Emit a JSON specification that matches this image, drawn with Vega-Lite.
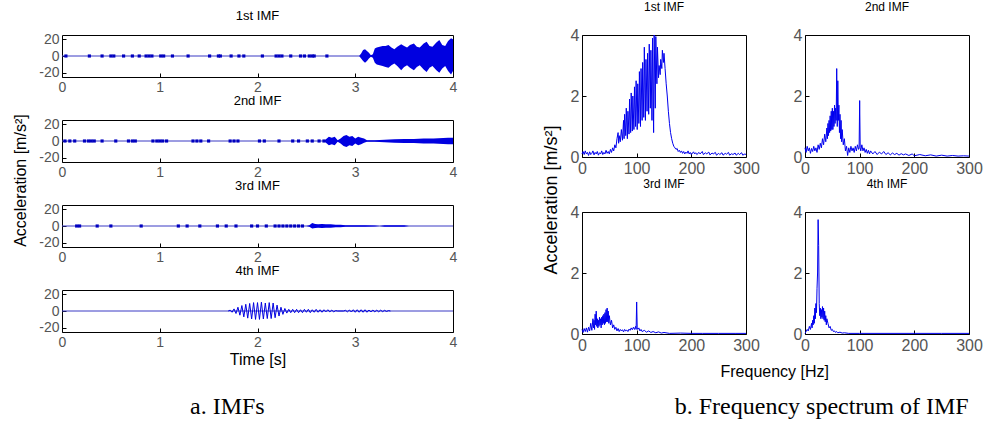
{
"$schema": "https://vega.github.io/schema/vega-lite/v6.json",
"background": "white",
"padding": {"left": 13, "top": 0, "right": 0, "bottom": 0},
"datasets": {
"ts": [
{"imf":1,"t":3.04,"lo":0,"hi":0},{"imf":1,"t":3.06,"lo":-3,"hi":3},{"imf":1,"t":3.08,"lo":-6,"hi":7},{"imf":1,"t":3.1,"lo":-8,"hi":8},{"imf":1,"t":3.12,"lo":-6,"hi":6},{"imf":1,"t":3.14,"lo":-3,"hi":4},{"imf":1,"t":3.16,"lo":-1,"hi":1},{"imf":1,"t":3.18,"lo":-2,"hi":2},{"imf":1,"t":3.2,"lo":-8,"hi":9},{"imf":1,"t":3.22,"lo":-10,"hi":10},{"imf":1,"t":3.25,"lo":-11,"hi":11},{"imf":1,"t":3.28,"lo":-12,"hi":12},{"imf":1,"t":3.31,"lo":-13,"hi":12},{"imf":1,"t":3.34,"lo":-14,"hi":13},{"imf":1,"t":3.37,"lo":-11,"hi":10},{"imf":1,"t":3.4,"lo":-9,"hi":8},{"imf":1,"t":3.43,"lo":-12,"hi":11},{"imf":1,"t":3.47,"lo":-17,"hi":14},{"imf":1,"t":3.5,"lo":-13,"hi":12},{"imf":1,"t":3.53,"lo":-11,"hi":10},{"imf":1,"t":3.56,"lo":-14,"hi":13},{"imf":1,"t":3.6,"lo":-17,"hi":15},{"imf":1,"t":3.63,"lo":-13,"hi":11},{"imf":1,"t":3.66,"lo":-11,"hi":10},{"imf":1,"t":3.7,"lo":-16,"hi":15},{"imf":1,"t":3.73,"lo":-19,"hi":17},{"imf":1,"t":3.76,"lo":-14,"hi":12},{"imf":1,"t":3.79,"lo":-12,"hi":11},{"imf":1,"t":3.83,"lo":-17,"hi":16},{"imf":1,"t":3.86,"lo":-20,"hi":19},{"imf":1,"t":3.89,"lo":-15,"hi":13},{"imf":1,"t":3.92,"lo":-12,"hi":12},{"imf":1,"t":3.95,"lo":-18,"hi":18},{"imf":1,"t":3.98,"lo":-22,"hi":21},{"imf":1,"t":4.0,"lo":-18,"hi":20},
{"imf":2,"t":2.68,"lo":0,"hi":0},{"imf":2,"t":2.7,"lo":-2,"hi":2},{"imf":2,"t":2.73,"lo":-5,"hi":5},{"imf":2,"t":2.76,"lo":-4,"hi":4},{"imf":2,"t":2.79,"lo":-5,"hi":5},{"imf":2,"t":2.82,"lo":-1,"hi":1},{"imf":2,"t":2.85,"lo":-3,"hi":3},{"imf":2,"t":2.88,"lo":-6,"hi":6},{"imf":2,"t":2.91,"lo":-7,"hi":7},{"imf":2,"t":2.94,"lo":-5,"hi":5},{"imf":2,"t":2.97,"lo":-6,"hi":6},{"imf":2,"t":3.0,"lo":-3,"hi":3},{"imf":2,"t":3.03,"lo":-5,"hi":5},{"imf":2,"t":3.06,"lo":-4,"hi":4},{"imf":2,"t":3.09,"lo":-2,"hi":3},{"imf":2,"t":3.12,"lo":-1,"hi":1},{"imf":2,"t":3.2,"lo":-1,"hi":1},{"imf":2,"t":3.3,"lo":-1.5,"hi":1.5},{"imf":2,"t":3.4,"lo":-2,"hi":2},{"imf":2,"t":3.5,"lo":-2.5,"hi":2.5},{"imf":2,"t":3.6,"lo":-2.5,"hi":2.5},{"imf":2,"t":3.7,"lo":-3,"hi":3},{"imf":2,"t":3.8,"lo":-3,"hi":3},{"imf":2,"t":3.9,"lo":-3.5,"hi":3.5},{"imf":2,"t":3.95,"lo":-4,"hi":4},{"imf":2,"t":4.0,"lo":-4,"hi":4},
{"imf":3,"t":2.5,"lo":0,"hi":0},{"imf":3,"t":2.53,"lo":-1,"hi":1},{"imf":3,"t":2.56,"lo":-3,"hi":3.5},{"imf":3,"t":2.59,"lo":-2.5,"hi":2.5},{"imf":3,"t":2.62,"lo":-2,"hi":2},{"imf":3,"t":2.66,"lo":-2.5,"hi":2.5},{"imf":3,"t":2.7,"lo":-2,"hi":2},{"imf":3,"t":2.75,"lo":-2,"hi":2},{"imf":3,"t":2.8,"lo":-1.5,"hi":1.5},{"imf":3,"t":2.85,"lo":-1.5,"hi":1.5},{"imf":3,"t":2.9,"lo":-0.8,"hi":0.8},{"imf":3,"t":3.0,"lo":-1,"hi":1},{"imf":3,"t":3.1,"lo":-0.8,"hi":0.8},{"imf":3,"t":3.2,"lo":-0.5,"hi":0.5},{"imf":3,"t":3.25,"lo":0,"hi":0},{"imf":3,"t":3.3,"lo":-0.8,"hi":0.8},{"imf":3,"t":3.4,"lo":-1,"hi":1},{"imf":3,"t":3.5,"lo":-0.8,"hi":0.8},{"imf":3,"t":3.55,"lo":0,"hi":0}
],
"blips": [
{"imf":1,"t":0.04},{"imf":1,"t":0.28},{"imf":1,"t":0.41},{"imf":1,"t":0.5},{"imf":1,"t":0.53},{"imf":1,"t":0.63},{"imf":1,"t":0.72},{"imf":1,"t":0.79},{"imf":1,"t":0.86},{"imf":1,"t":0.89},{"imf":1,"t":0.92},{"imf":1,"t":1.01},{"imf":1,"t":1.04},{"imf":1,"t":1.13},{"imf":1,"t":1.29},{"imf":1,"t":1.51},{"imf":1,"t":1.6},{"imf":1,"t":1.62},{"imf":1,"t":1.73},{"imf":1,"t":1.81},{"imf":1,"t":1.86},{"imf":1,"t":2.05},{"imf":1,"t":2.19},{"imf":1,"t":2.22},{"imf":1,"t":2.25},{"imf":1,"t":2.34},{"imf":1,"t":2.44},{"imf":1,"t":2.48},{"imf":1,"t":2.53},{"imf":1,"t":2.56},{"imf":1,"t":2.58},{"imf":1,"t":2.71},
{"imf":2,"t":0.03},{"imf":2,"t":0.08},{"imf":2,"t":0.13},{"imf":2,"t":0.23},{"imf":2,"t":0.27},{"imf":2,"t":0.3},{"imf":2,"t":0.33},{"imf":2,"t":0.41},{"imf":2,"t":0.55},{"imf":2,"t":0.68},{"imf":2,"t":0.72},{"imf":2,"t":0.75},{"imf":2,"t":0.93},{"imf":2,"t":0.97},{"imf":2,"t":1.0},{"imf":2,"t":1.03},{"imf":2,"t":1.07},{"imf":2,"t":1.34},{"imf":2,"t":1.38},{"imf":2,"t":1.42},{"imf":2,"t":1.5},{"imf":2,"t":1.72},{"imf":2,"t":1.76},{"imf":2,"t":1.8},{"imf":2,"t":2.02},{"imf":2,"t":2.07},{"imf":2,"t":2.22},{"imf":2,"t":2.36},{"imf":2,"t":2.42},{"imf":2,"t":2.51},{"imf":2,"t":2.56},{"imf":2,"t":2.63},{"imf":2,"t":2.68},
{"imf":3,"t":0.15},{"imf":3,"t":0.18},{"imf":3,"t":0.36},{"imf":3,"t":0.5},{"imf":3,"t":0.81},{"imf":3,"t":1.19},{"imf":3,"t":1.28},{"imf":3,"t":1.41},{"imf":3,"t":1.59},{"imf":3,"t":1.68},{"imf":3,"t":1.78},{"imf":3,"t":1.94},{"imf":3,"t":2.0},{"imf":3,"t":2.09},{"imf":3,"t":2.18},{"imf":3,"t":2.22},{"imf":3,"t":2.26},{"imf":3,"t":2.3},{"imf":3,"t":2.34},{"imf":3,"t":2.38},{"imf":3,"t":2.42},{"imf":3,"t":2.46}
],
"imf4": [
{"t":1.70,"v":0},{"t":1.72,"v":1},{"t":1.74,"v":-1.5},{"t":1.76,"v":2.5},{"t":1.78,"v":-3},{"t":1.80,"v":4.5},{"t":1.82,"v":-5},{"t":1.84,"v":6.5},{"t":1.86,"v":-7},{"t":1.88,"v":8},{"t":1.90,"v":-8.5},{"t":1.92,"v":9},{"t":1.94,"v":-9.5},{"t":1.96,"v":10},{"t":1.98,"v":-10},{"t":2.00,"v":10},{"t":2.02,"v":-10},{"t":2.04,"v":10.5},{"t":2.06,"v":-9.5},{"t":2.08,"v":9.5},{"t":2.10,"v":-9},{"t":2.12,"v":10},{"t":2.14,"v":-9},{"t":2.16,"v":9.5},{"t":2.18,"v":-8},{"t":2.20,"v":7},{"t":2.22,"v":-6},{"t":2.24,"v":4.5},{"t":2.26,"v":-4},{"t":2.28,"v":3},{"t":2.30,"v":-2.5},{"t":2.32,"v":2},{"t":2.34,"v":-2},{"t":2.36,"v":2},{"t":2.38,"v":-2},{"t":2.40,"v":2},{"t":2.42,"v":-2},{"t":2.44,"v":1.5},{"t":2.46,"v":-2},{"t":2.48,"v":2},{"t":2.50,"v":-1.5},{"t":2.52,"v":2},{"t":2.54,"v":-2},{"t":2.56,"v":1.5},{"t":2.58,"v":-1.5},{"t":2.60,"v":2},{"t":2.62,"v":-1.5},{"t":2.64,"v":1.5},{"t":2.66,"v":-1.5},{"t":2.68,"v":1.5},{"t":2.70,"v":-1},{"t":2.72,"v":1.5},{"t":2.74,"v":-1},{"t":2.76,"v":1},{"t":2.78,"v":-1},{"t":2.80,"v":0.5},{"t":2.82,"v":0},{"t":2.88,"v":0},{"t":2.90,"v":0.8},{"t":2.92,"v":-1},{"t":2.94,"v":1.2},{"t":2.96,"v":-1.2},{"t":2.98,"v":1.5},{"t":3.00,"v":-1.5},{"t":3.02,"v":1.5},{"t":3.04,"v":-1.5},{"t":3.06,"v":1.5},{"t":3.08,"v":-1.5},{"t":3.10,"v":1.5},{"t":3.12,"v":-1.5},{"t":3.14,"v":1.2},{"t":3.16,"v":-1.2},{"t":3.18,"v":1.2},{"t":3.20,"v":-1},{"t":3.22,"v":1},{"t":3.24,"v":-1},{"t":3.26,"v":1},{"t":3.28,"v":-0.8},{"t":3.30,"v":0.8},{"t":3.32,"v":-0.6},{"t":3.34,"v":0.5},{"t":3.36,"v":0}
],
"s1": [
{"f":0,"a":0.1},{"f":2,"a":0.18},{"f":4,"a":0.08},{"f":6,"a":0.2},{"f":8,"a":0.1},{"f":10,"a":0.15},{"f":12,"a":0.05},{"f":14,"a":0.17},{"f":16,"a":0.08},{"f":18,"a":0.12},{"f":20,"a":0.2},{"f":22,"a":0.07},{"f":24,"a":0.15},{"f":26,"a":0.1},{"f":28,"a":0.18},{"f":30,"a":0.06},{"f":32,"a":0.14},{"f":34,"a":0.1},{"f":36,"a":0.2},{"f":38,"a":0.08},{"f":40,"a":0.15},{"f":42,"a":0.1},{"f":44,"a":0.22},{"f":46,"a":0.12},{"f":48,"a":0.18},{"f":50,"a":0.1},{"f":52,"a":0.25},{"f":54,"a":0.15},{"f":56,"a":0.3},{"f":58,"a":0.2},{"f":60,"a":0.4},{"f":62,"a":0.3},{"f":64,"a":0.6},{"f":66,"a":0.8},{"f":67,"a":0.45},{"f":68,"a":0.7},{"f":70,"a":0.5},{"f":72,"a":0.9},{"f":74,"a":0.55},{"f":76,"a":1.2},{"f":77,"a":0.6},{"f":78,"a":1.4},{"f":80,"a":0.7},{"f":81,"a":1.6},{"f":83,"a":0.6},{"f":84,"a":1.5},{"f":86,"a":0.75},{"f":87,"a":1.9},{"f":89,"a":0.8},{"f":90,"a":2.1},{"f":92,"a":0.85},{"f":93,"a":2.0},{"f":95,"a":0.9},{"f":96,"a":2.3},{"f":98,"a":1.0},{"f":99,"a":2.5},{"f":101,"a":0.9},{"f":102,"a":2.4},{"f":104,"a":1.1},{"f":105,"a":2.8},{"f":107,"a":1.0},{"f":108,"a":2.9},{"f":110,"a":1.2},{"f":111,"a":3.1},{"f":113,"a":1.3},{"f":114,"a":3.6},{"f":116,"a":1.2},{"f":117,"a":3.2},{"f":119,"a":1.5},{"f":120,"a":3.4},{"f":122,"a":1.4},{"f":123,"a":3.7},{"f":125,"a":1.6},{"f":126,"a":3.5},{"f":128,"a":1.2},{"f":129,"a":3.9},{"f":131,"a":0.8},{"f":132,"a":4.0},{"f":134,"a":1.6},{"f":135,"a":3.95},{"f":137,"a":2.4},{"f":138,"a":3.6},{"f":140,"a":2.6},{"f":141,"a":3.0},{"f":143,"a":2.7},{"f":144,"a":3.2},{"f":146,"a":2.9},{"f":147,"a":3.5},{"f":149,"a":3.1},{"f":150,"a":3.4},{"f":152,"a":2.9},{"f":154,"a":2.4},{"f":156,"a":2.0},{"f":158,"a":1.5},{"f":160,"a":1.1},{"f":162,"a":0.8},{"f":164,"a":0.6},{"f":166,"a":0.45},{"f":168,"a":0.35},{"f":170,"a":0.3},{"f":172,"a":0.25},{"f":174,"a":0.28},{"f":176,"a":0.18},{"f":178,"a":0.22},{"f":180,"a":0.15},{"f":182,"a":0.2},{"f":184,"a":0.12},{"f":186,"a":0.18},{"f":188,"a":0.1},{"f":190,"a":0.16},{"f":192,"a":0.12},{"f":194,"a":0.2},{"f":196,"a":0.1},{"f":198,"a":0.15},{"f":200,"a":0.08},{"f":204,"a":0.17},{"f":206,"a":0.1},{"f":208,"a":0.14},{"f":210,"a":0.08},{"f":214,"a":0.15},{"f":216,"a":0.1},{"f":220,"a":0.18},{"f":222,"a":0.08},{"f":226,"a":0.14},{"f":228,"a":0.1},{"f":232,"a":0.16},{"f":234,"a":0.07},{"f":238,"a":0.13},{"f":240,"a":0.1},{"f":244,"a":0.15},{"f":246,"a":0.06},{"f":250,"a":0.12},{"f":252,"a":0.08},{"f":256,"a":0.14},{"f":258,"a":0.06},{"f":262,"a":0.12},{"f":264,"a":0.09},{"f":268,"a":0.15},{"f":270,"a":0.06},{"f":274,"a":0.11},{"f":276,"a":0.08},{"f":280,"a":0.13},{"f":282,"a":0.06},{"f":286,"a":0.12},{"f":288,"a":0.08},{"f":292,"a":0.14},{"f":294,"a":0.06},{"f":298,"a":0.1},{"f":300,"a":0.08}
],
"s2": [
{"f":0,"a":0.3},{"f":2,"a":0.15},{"f":4,"a":0.35},{"f":6,"a":0.2},{"f":8,"a":0.3},{"f":10,"a":0.12},{"f":12,"a":0.28},{"f":14,"a":0.18},{"f":16,"a":0.35},{"f":18,"a":0.2},{"f":20,"a":0.3},{"f":22,"a":0.15},{"f":24,"a":0.4},{"f":26,"a":0.25},{"f":28,"a":0.45},{"f":30,"a":0.3},{"f":32,"a":0.6},{"f":34,"a":0.4},{"f":36,"a":0.75},{"f":38,"a":0.5},{"f":40,"a":0.95},{"f":41,"a":0.6},{"f":42,"a":1.1},{"f":43,"a":0.7},{"f":44,"a":1.2},{"f":45,"a":0.8},{"f":46,"a":1.35},{"f":47,"a":0.85},{"f":48,"a":1.5},{"f":49,"a":0.9},{"f":50,"a":1.6},{"f":51,"a":0.9},{"f":52,"a":1.5},{"f":53,"a":1.0},{"f":54,"a":1.7},{"f":55,"a":1.1},{"f":56,"a":1.6},{"f":57,"a":1.2},{"f":58,"a":2.9},{"f":59,"a":1.0},{"f":60,"a":2.5},{"f":61,"a":1.2},{"f":62,"a":1.7},{"f":63,"a":0.8},{"f":64,"a":1.4},{"f":65,"a":0.6},{"f":66,"a":1.2},{"f":67,"a":0.5},{"f":68,"a":0.9},{"f":70,"a":0.4},{"f":72,"a":0.6},{"f":74,"a":0.2},{"f":76,"a":0.35},{"f":78,"a":0.05},{"f":80,"a":0.3},{"f":82,"a":0.15},{"f":84,"a":0.35},{"f":86,"a":0.2},{"f":88,"a":0.3},{"f":90,"a":0.15},{"f":92,"a":0.35},{"f":94,"a":0.2},{"f":96,"a":0.4},{"f":98,"a":0.25},{"f":99,"a":0.3},{"f":100,"a":1.85},{"f":101,"a":0.3},{"f":102,"a":0.2},{"f":104,"a":0.4},{"f":106,"a":0.2},{"f":108,"a":0.3},{"f":110,"a":0.15},{"f":112,"a":0.25},{"f":114,"a":0.12},{"f":116,"a":0.22},{"f":118,"a":0.1},{"f":120,"a":0.2},{"f":124,"a":0.1},{"f":128,"a":0.18},{"f":132,"a":0.08},{"f":136,"a":0.16},{"f":140,"a":0.1},{"f":144,"a":0.18},{"f":148,"a":0.08},{"f":152,"a":0.14},{"f":156,"a":0.07},{"f":160,"a":0.13},{"f":164,"a":0.08},{"f":168,"a":0.12},{"f":172,"a":0.06},{"f":176,"a":0.11},{"f":180,"a":0.07},{"f":184,"a":0.1},{"f":190,"a":0.05},{"f":196,"a":0.1},{"f":200,"a":0.04},{"f":210,"a":0.08},{"f":220,"a":0.04},{"f":230,"a":0.07},{"f":240,"a":0.03},{"f":250,"a":0.06},{"f":260,"a":0.03},{"f":270,"a":0.05},{"f":280,"a":0.03},{"f":290,"a":0.04},{"f":300,"a":0.03}
],
"s3": [
{"f":0,"a":0.15},{"f":2,"a":0.05},{"f":4,"a":0.18},{"f":6,"a":0.08},{"f":8,"a":0.2},{"f":10,"a":0.06},{"f":12,"a":0.22},{"f":14,"a":0.1},{"f":16,"a":0.35},{"f":18,"a":0.12},{"f":20,"a":0.5},{"f":21,"a":0.2},{"f":22,"a":0.45},{"f":23,"a":0.15},{"f":24,"a":0.65},{"f":25,"a":0.3},{"f":26,"a":0.75},{"f":27,"a":0.25},{"f":28,"a":0.5},{"f":29,"a":0.2},{"f":30,"a":0.45},{"f":31,"a":0.25},{"f":32,"a":0.55},{"f":33,"a":0.3},{"f":34,"a":0.5},{"f":35,"a":0.2},{"f":36,"a":0.55},{"f":37,"a":0.3},{"f":38,"a":0.6},{"f":39,"a":0.35},{"f":40,"a":0.65},{"f":41,"a":0.3},{"f":42,"a":0.7},{"f":43,"a":0.35},{"f":44,"a":0.8},{"f":45,"a":0.4},{"f":46,"a":0.85},{"f":47,"a":0.4},{"f":48,"a":0.75},{"f":49,"a":0.35},{"f":50,"a":0.6},{"f":52,"a":0.3},{"f":54,"a":0.45},{"f":56,"a":0.2},{"f":58,"a":0.3},{"f":60,"a":0.15},{"f":62,"a":0.22},{"f":64,"a":0.1},{"f":66,"a":0.18},{"f":68,"a":0.08},{"f":70,"a":0.15},{"f":72,"a":0.1},{"f":74,"a":0.14},{"f":76,"a":0.07},{"f":78,"a":0.15},{"f":80,"a":0.1},{"f":82,"a":0.13},{"f":84,"a":0.08},{"f":86,"a":0.16},{"f":88,"a":0.12},{"f":90,"a":0.2},{"f":92,"a":0.14},{"f":94,"a":0.22},{"f":96,"a":0.15},{"f":98,"a":0.25},{"f":99,"a":0.15},{"f":100,"a":1.05},{"f":101,"a":0.2},{"f":102,"a":0.15},{"f":104,"a":0.2},{"f":106,"a":0.1},{"f":108,"a":0.15},{"f":110,"a":0.08},{"f":114,"a":0.12},{"f":118,"a":0.06},{"f":122,"a":0.1},{"f":126,"a":0.05},{"f":130,"a":0.08},{"f":135,"a":0.04},{"f":140,"a":0.07},{"f":145,"a":0.03},{"f":150,"a":0.05},{"f":160,"a":0.02},{"f":180,"a":0.03},{"f":200,"a":0.02},{"f":220,"a":0.02},{"f":250,"a":0.02},{"f":280,"a":0.02},{"f":300,"a":0.02}
],
"s4": [
{"f":0,"a":0.02},{"f":2,"a":0.08},{"f":4,"a":0.15},{"f":6,"a":0.1},{"f":8,"a":0.25},{"f":10,"a":0.15},{"f":12,"a":0.35},{"f":13,"a":0.2},{"f":14,"a":0.45},{"f":15,"a":0.3},{"f":16,"a":0.6},{"f":17,"a":0.35},{"f":18,"a":0.85},{"f":19,"a":0.5},{"f":20,"a":1.0},{"f":21,"a":0.7},{"f":22,"a":1.5},{"f":23,"a":2.0},{"f":24,"a":3.75},{"f":25,"a":2.9},{"f":26,"a":1.0},{"f":27,"a":0.6},{"f":28,"a":0.85},{"f":29,"a":0.5},{"f":30,"a":0.8},{"f":31,"a":0.55},{"f":32,"a":0.9},{"f":33,"a":0.5},{"f":34,"a":0.85},{"f":35,"a":0.45},{"f":36,"a":0.75},{"f":37,"a":0.4},{"f":38,"a":0.6},{"f":39,"a":0.3},{"f":40,"a":0.5},{"f":42,"a":0.35},{"f":44,"a":0.2},{"f":46,"a":0.25},{"f":48,"a":0.12},{"f":50,"a":0.15},{"f":52,"a":0.08},{"f":54,"a":0.1},{"f":56,"a":0.05},{"f":58,"a":0.08},{"f":60,"a":0.04},{"f":64,"a":0.06},{"f":68,"a":0.03},{"f":72,"a":0.04},{"f":80,"a":0.02},{"f":100,"a":0.02},{"f":150,"a":0.02},{"f":200,"a":0.02},{"f":250,"a":0.02},{"f":300,"a":0.02}
]
},
"hconcat": [
{
"title": {"text": "a. IMFs", "orient": "bottom", "anchor": "middle", "font": "Liberation Serif", "fontSize": 24, "offset": 27, "frame": "bounds", "dx": -8},
"vconcat": [
{
"title": {"text": "Acceleration [m/s²]", "orient": "left", "anchor": "middle", "fontSize": 16, "offset": 9, "dx": 8},
"bounds": "flush",
"spacing": 43,
"vconcat": [
{"width": 391, "height": 42, "title": {"text": "1st IMF", "anchor": "middle", "offset": 9, "frame": "group"},
"layer": [
{"data": {"values": [{}]}, "mark": {"type": "rule", "color": "#3a3ac4", "strokeWidth": 1}, "encoding": {"y": {"datum": 0, "type": "quantitative", "scale": {"domain": [-25, 25], "nice": false, "zero": false}, "axis": {"title": null, "values": [-20, 0, 20], "labelExpr": "'' + datum.value", "labelFontSize": 14}}}},
{"data": {"name": "ts"}, "transform": [{"filter": "datum.imf == 1"}], "mark": {"type": "area", "color": "#0000e0", "opacity": 1}, "encoding": {"x": {"field": "t", "type": "quantitative", "scale": {"domain": [0, 4], "nice": false}, "axis": {"title": null, "values": [0, 1, 2, 3, 4], "format": "d", "labelFontSize": 14, "labelPadding": 7}}, "y": {"field": "lo", "type": "quantitative", "axis": {"title": null, "values": [-20, 0, 20], "labelExpr": "'' + datum.value", "labelFontSize": 14}}, "y2": {"field": "hi"}}},
{"data": {"name": "blips"}, "transform": [{"filter": "datum.imf == 1"}], "mark": {"type": "square", "size": 10, "color": "#0000c0", "opacity": 1}, "encoding": {"x": {"field": "t", "type": "quantitative", "axis": {"title": null, "values": [0, 1, 2, 3, 4], "format": "d", "labelFontSize": 14, "labelPadding": 7}}, "y": {"datum": 0, "type": "quantitative", "axis": {"title": null, "values": [-20, 0, 20], "labelExpr": "'' + datum.value", "labelFontSize": 14}}}}
]},
{"width": 391, "height": 42, "title": {"text": "2nd IMF", "anchor": "middle", "offset": 9, "frame": "group"},
"layer": [
{"data": {"values": [{}]}, "mark": {"type": "rule", "color": "#3a3ac4", "strokeWidth": 1}, "encoding": {"y": {"datum": 0, "type": "quantitative", "scale": {"domain": [-25, 25], "nice": false, "zero": false}, "axis": {"title": null, "values": [-20, 0, 20], "labelExpr": "'' + datum.value", "labelFontSize": 14}}}},
{"data": {"name": "ts"}, "transform": [{"filter": "datum.imf == 2"}], "mark": {"type": "area", "color": "#0000e0", "opacity": 1}, "encoding": {"x": {"field": "t", "type": "quantitative", "scale": {"domain": [0, 4], "nice": false}, "axis": {"title": null, "values": [0, 1, 2, 3, 4], "format": "d", "labelFontSize": 14, "labelPadding": 7}}, "y": {"field": "lo", "type": "quantitative", "axis": {"title": null, "values": [-20, 0, 20], "labelExpr": "'' + datum.value", "labelFontSize": 14}}, "y2": {"field": "hi"}}},
{"data": {"name": "blips"}, "transform": [{"filter": "datum.imf == 2"}], "mark": {"type": "square", "size": 10, "color": "#0000c0", "opacity": 1}, "encoding": {"x": {"field": "t", "type": "quantitative", "axis": {"title": null, "values": [0, 1, 2, 3, 4], "format": "d", "labelFontSize": 14, "labelPadding": 7}}, "y": {"datum": 0, "type": "quantitative", "axis": {"title": null, "values": [-20, 0, 20], "labelExpr": "'' + datum.value", "labelFontSize": 14}}}}
]},
{"width": 391, "height": 42, "title": {"text": "3rd IMF", "anchor": "middle", "offset": 9, "frame": "group"},
"layer": [
{"data": {"values": [{}]}, "mark": {"type": "rule", "color": "#3a3ac4", "strokeWidth": 1}, "encoding": {"y": {"datum": 0, "type": "quantitative", "scale": {"domain": [-25, 25], "nice": false, "zero": false}, "axis": {"title": null, "values": [-20, 0, 20], "labelExpr": "'' + datum.value", "labelFontSize": 14}}}},
{"data": {"name": "ts"}, "transform": [{"filter": "datum.imf == 3"}], "mark": {"type": "area", "color": "#0000e0", "opacity": 1}, "encoding": {"x": {"field": "t", "type": "quantitative", "scale": {"domain": [0, 4], "nice": false}, "axis": {"title": null, "values": [0, 1, 2, 3, 4], "format": "d", "labelFontSize": 14, "labelPadding": 7}}, "y": {"field": "lo", "type": "quantitative", "axis": {"title": null, "values": [-20, 0, 20], "labelExpr": "'' + datum.value", "labelFontSize": 14}}, "y2": {"field": "hi"}}},
{"data": {"name": "blips"}, "transform": [{"filter": "datum.imf == 3"}], "mark": {"type": "square", "size": 10, "color": "#0000c0", "opacity": 1}, "encoding": {"x": {"field": "t", "type": "quantitative", "axis": {"title": null, "values": [0, 1, 2, 3, 4], "format": "d", "labelFontSize": 14, "labelPadding": 7}}, "y": {"datum": 0, "type": "quantitative", "axis": {"title": null, "values": [-20, 0, 20], "labelExpr": "'' + datum.value", "labelFontSize": 14}}}}
]},
{"width": 391, "height": 42, "title": {"text": "4th IMF", "anchor": "middle", "offset": 9, "frame": "group"},
"layer": [
{"data": {"values": [{}]}, "mark": {"type": "rule", "color": "#3a3ac4", "strokeWidth": 1}, "encoding": {"y": {"datum": 0, "type": "quantitative", "scale": {"domain": [-25, 25], "nice": false, "zero": false}, "axis": {"title": null, "values": [-20, 0, 20], "labelExpr": "'' + datum.value", "labelFontSize": 14}}}},
{"data": {"name": "imf4"}, "mark": {"type": "line", "color": "#0000e0", "strokeWidth": 1}, "encoding": {"x": {"field": "t", "type": "quantitative", "scale": {"domain": [0, 4], "nice": false}, "axis": {"title": "Time [s]", "values": [0, 1, 2, 3, 4], "format": "d", "labelFontSize": 14, "labelPadding": 7, "titlePadding": 2}}, "y": {"field": "v", "type": "quantitative", "axis": {"title": null, "values": [-20, 0, 20], "labelExpr": "'' + datum.value", "labelFontSize": 14}}}}
]}
]
}
]
},
{
"title": {"text": "b. Frequency spectrum of IMF", "orient": "bottom", "anchor": "middle", "font": "Liberation Serif", "fontSize": 24, "offset": 15, "frame": "bounds", "dx": 59},
"vconcat": [
{
"title": {"text": "Frequency [Hz]", "orient": "bottom", "anchor": "middle", "fontSize": 16, "offset": 10, "frame": "bounds", "dx": 12},
"vconcat": [
{
"title": {"text": "Acceleration [m/s²]", "orient": "left", "anchor": "middle", "fontSize": 18, "offset": 9, "dx": -23},
"bounds": "flush",
"columns": 2,
"spacing": {"row": 55, "column": 59},
"concat": [
{"width": 164, "height": 122, "title": {"text": "1st IMF", "anchor": "middle", "fontSize": 12, "offset": 13, "frame": "group"}, "data": {"name": "s1"}, "mark": {"type": "line", "color": "#0000ee", "strokeWidth": 1}, "encoding": {"x": {"field": "f", "type": "quantitative", "scale": {"domain": [0, 300], "nice": false}, "axis": {"title": null, "values": [0, 100, 200, 300], "labelFontSize": 16}}, "y": {"field": "a", "type": "quantitative", "scale": {"domain": [0, 4], "nice": false}, "axis": {"title": null, "values": [0, 2, 4], "labelFontSize": 16}}}},
{"width": 164, "height": 122, "title": {"text": "2nd IMF", "anchor": "middle", "fontSize": 12, "offset": 13, "frame": "group"}, "data": {"name": "s2"}, "mark": {"type": "line", "color": "#0000ee", "strokeWidth": 1}, "encoding": {"x": {"field": "f", "type": "quantitative", "scale": {"domain": [0, 300], "nice": false}, "axis": {"title": null, "values": [0, 100, 200, 300], "labelFontSize": 16}}, "y": {"field": "a", "type": "quantitative", "scale": {"domain": [0, 4], "nice": false}, "axis": {"title": null, "values": [0, 2, 4], "labelFontSize": 16}}}},
{"width": 164, "height": 122, "title": {"text": "3rd IMF", "anchor": "middle", "fontSize": 12, "offset": 13, "frame": "group"}, "data": {"name": "s3"}, "mark": {"type": "line", "color": "#0000ee", "strokeWidth": 1}, "encoding": {"x": {"field": "f", "type": "quantitative", "scale": {"domain": [0, 300], "nice": false}, "axis": {"title": null, "values": [0, 100, 200, 300], "labelFontSize": 16}}, "y": {"field": "a", "type": "quantitative", "scale": {"domain": [0, 4], "nice": false}, "axis": {"title": null, "values": [0, 2, 4], "labelFontSize": 16}}}},
{"width": 164, "height": 122, "title": {"text": "4th IMF", "anchor": "middle", "fontSize": 12, "offset": 13, "frame": "group"}, "data": {"name": "s4"}, "mark": {"type": "line", "color": "#0000ee", "strokeWidth": 1}, "encoding": {"x": {"field": "f", "type": "quantitative", "scale": {"domain": [0, 300], "nice": false}, "axis": {"title": null, "values": [0, 100, 200, 300], "labelFontSize": 16}}, "y": {"field": "a", "type": "quantitative", "scale": {"domain": [0, 4], "nice": false}, "axis": {"title": null, "values": [0, 2, 4], "labelFontSize": 16}}}}
]
}
]
}
]
}
],
"spacing": 84,
"config": {
"font": "Liberation Sans",
"view": {"stroke": "#000", "strokeWidth": 1},
"axis": {"grid": false, "domain": false, "ticks": true, "tickColor": "#000", "tickSize": -4, "labelPadding": 7, "labelColor": "#555", "labelFont": "Liberation Sans", "labelFlush": false, "labelOverlap": false, "titleFont": "Liberation Sans", "titleFontWeight": "normal", "titleColor": "#000", "titleFontSize": 16},
"title": {"font": "Liberation Sans", "fontWeight": "normal", "color": "#000", "fontSize": 13}
}
}
